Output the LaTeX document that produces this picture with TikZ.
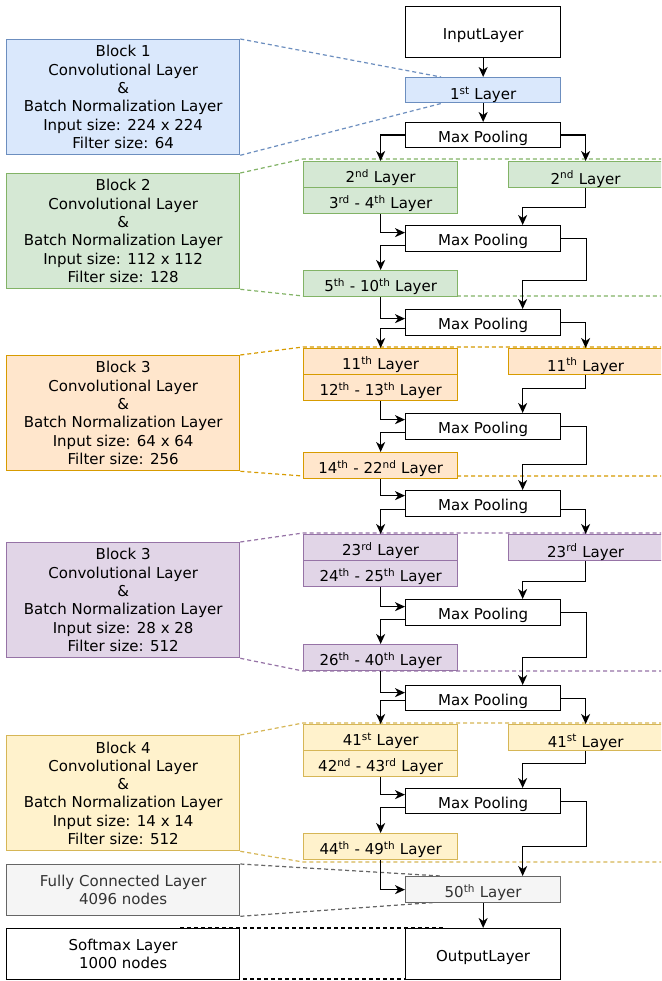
\documentclass[tikz,border=0pt]{standalone}
\usepackage{fontspec}
\setmainfont{DejaVu Sans}
\usetikzlibrary{arrows.meta}
\definecolor{bluef}{HTML}{DAE8FC}\definecolor{blues}{HTML}{6C8EBF}
\definecolor{greenf}{HTML}{D5E8D4}\definecolor{greens}{HTML}{82B366}
\definecolor{orangef}{HTML}{FFE6CC}\definecolor{oranges}{HTML}{D79B00}
\definecolor{purplef}{HTML}{E1D5E7}\definecolor{purples}{HTML}{9673A6}
\definecolor{yellowf}{HTML}{FFF2CC}\definecolor{yellows}{HTML}{D6B656}
\definecolor{grayf}{HTML}{F5F5F5}\definecolor{grays}{HTML}{666666}
\definecolor{grayt}{HTML}{333333}
\begin{document}
\begin{tikzpicture}[x=1pt,y=-1pt,
  font=\fontsize{15pt}{18.3pt}\selectfont,
  box/.style={draw, line width=1.3pt, inner sep=0pt, anchor=north west, align=center, text=black},
  lay/.style={box, minimum width=154pt, minimum height=26pt, text height=15.5pt, text depth=0pt},
  rlay/.style={lay, text height=19pt},
  mpool/.style={box, fill=white, minimum width=155pt, minimum height=26pt, text height=14.4pt, text depth=0pt},
  endbox/.style={box, fill=white, minimum width=155pt, minimum height=51pt, text height=15.2pt, text depth=0pt},
  blk/.style={box, minimum width=233pt, minimum height=115pt},
  smallblk/.style={box, minimum width=233pt, minimum height=51pt},
  arr/.style={line width=1.3pt, -{Stealth[length=10pt,width=9pt,inset=3pt]}},
  dsh/.style={line width=1.2pt, dash pattern=on 4pt off 3pt},
  cblue/.style={fill=bluef, draw=blues},
  cgreen/.style={fill=greenf, draw=greens},
  corange/.style={fill=orangef, draw=oranges},
  cpurple/.style={fill=purplef, draw=purples},
  cyellow/.style={fill=yellowf, draw=yellows},
  cgray/.style={fill=grayf, draw=grays, text=grayt},
]
\clip (0,0) rectangle (661,981);
\fill[white] (0,0) rectangle (661,981);

% ---------- side blocks ----------
\node[blk, cblue] (b1) at (6,39) {Block 1\\Convolutional Layer\\\&\\Batch Normalization Layer\\Input size: 224 x 224\\Filter size: 64};
\node[blk, cgreen] (b2) at (6,173) {Block 2\\Convolutional Layer\\\&\\Batch Normalization Layer\\Input size: 112 x 112\\Filter size: 128};
\node[blk, corange] (b3) at (6,355) {Block 3\\Convolutional Layer\\\&\\Batch Normalization Layer\\Input size: 64 x 64\\Filter size: 256};
\node[blk, cpurple] (b3p) at (6,542) {Block 3\\Convolutional Layer\\\&\\Batch Normalization Layer\\Input size: 28 x 28\\Filter size: 512};
\node[blk, cyellow] (b4) at (6,735) {Block 4\\Convolutional Layer\\\&\\Batch Normalization Layer\\Input size: 14 x 14\\Filter size: 512};
\node[smallblk, cgray] (fc) at (6,864) {Fully Connected Layer\\4096 nodes};

% ---------- dashed guide lines ----------
\coordinate (d1a) at (441,77);   \coordinate (d1b) at (443,103);
\coordinate (g1) at (303,159);   \coordinate (g2) at (661,159);
\coordinate (g3) at (303,296);   \coordinate (g4) at (661,296);
\coordinate (o1) at (303,347);   \coordinate (o2) at (661,347);
\coordinate (o3) at (303,476);   \coordinate (o4) at (661,476);
\coordinate (p1) at (303,533);   \coordinate (p2) at (661,533);
\coordinate (p3) at (303,671);   \coordinate (p4) at (661,671);
\coordinate (y1) at (303,723);   \coordinate (y2) at (661,723);
\coordinate (y3) at (303,862);   \coordinate (y4) at (661,862);
\coordinate (f1) at (441,876);   \coordinate (f2) at (441,902);
\coordinate (s1) at (180,928);   \coordinate (s2) at (443,928);
\coordinate (s3) at (180,979);   \coordinate (s4) at (443,979);

\draw[dsh, blues] (b1.north east) -- (d1a);
\draw[dsh, blues] (b1.south east) -- (d1b);
\draw[dsh, greens] (b2.north east) -- (g1) -- (g2);
\draw[dsh, greens] (b2.south east) -- (g3) -- (g4);
\draw[dsh, oranges] (b3.north east) -- (o1) -- (o2);
\draw[dsh, oranges] (b3.south east) -- (o3) -- (o4);
\draw[dsh, purples] (b3p.north east) -- (p1) -- (p2);
\draw[dsh, purples] (b3p.south east) -- (p3) -- (p4);
\draw[dsh, yellows] (b4.north east) -- (y1) -- (y2);
\draw[dsh, yellows] (b4.south east) -- (y3) -- (y4);
\draw[dsh, grays] (fc.north east) -- (f1);
\draw[dsh, grays] (fc.south east) -- (f2);
\draw[dsh, black] (s1) -- (s2);
\draw[dsh, black] (s3) -- (s4);

\node[smallblk, fill=white] (sm) at (6,928) {Softmax Layer\\1000 nodes};

% ---------- main column ----------
\node[endbox] (in) at (405,6) {InputLayer};
\node[rlay, cblue, minimum width=155pt, minimum height=25pt] (l1) at (405,77) {1\textsuperscript{st} Layer};
\node[mpool, minimum height=25pt] (mp1) at (405,122) {Max Pooling};

\node[lay, cgreen] (l2a) at (303,161) {2\textsuperscript{nd} Layer};
\node[lay, cgreen] (l34) at (303,187) {3\textsuperscript{rd} - 4\textsuperscript{th} Layer};
\node[rlay, cgreen] (l2b) at (508,161) {2\textsuperscript{nd} Layer};
\node[mpool] (mp2) at (405,225) {Max Pooling};
\node[lay, cgreen] (l510) at (303,270) {5\textsuperscript{th} - 10\textsuperscript{th} Layer};
\node[mpool] (mp3) at (405,309) {Max Pooling};

\node[lay, corange] (l11a) at (303,348) {11\textsuperscript{th} Layer};
\node[lay, corange] (l1213) at (303,374) {12\textsuperscript{th} - 13\textsuperscript{th} Layer};
\node[rlay, corange] (l11b) at (508,348) {11\textsuperscript{th} Layer};
\node[mpool] (mp4) at (405,413) {Max Pooling};
\node[lay, corange] (l1422) at (303,452) {14\textsuperscript{th} - 22\textsuperscript{nd} Layer};
\node[mpool] (mp5) at (405,490) {Max Pooling};

\node[lay, cpurple] (l23a) at (303,534) {23\textsuperscript{rd} Layer};
\node[lay, cpurple] (l2425) at (303,560) {24\textsuperscript{th} - 25\textsuperscript{th} Layer};
\node[rlay, cpurple] (l23b) at (508,534) {23\textsuperscript{rd} Layer};
\node[mpool] (mp6) at (405,599) {Max Pooling};
\node[lay, cpurple] (l2640) at (303,644) {26\textsuperscript{th} - 40\textsuperscript{th} Layer};
\node[mpool, minimum height=25pt] (mp7) at (405,685) {Max Pooling};

\node[lay, cyellow] (l41a) at (303,724) {41\textsuperscript{st} Layer};
\node[lay, cyellow] (l4243) at (303,750) {42\textsuperscript{nd} - 43\textsuperscript{rd} Layer};
\node[rlay, cyellow] (l41b) at (508,724) {41\textsuperscript{st} Layer};
\node[mpool, minimum height=25pt] (mp8) at (405,788) {Max Pooling};
\node[lay, cyellow] (l4449) at (303,833) {44\textsuperscript{th} - 49\textsuperscript{th} Layer};

\node[lay, cgray, minimum width=155pt] (l50) at (405,876) {50\textsuperscript{th} Layer};
\node[endbox] (out) at (405,928) {OutputLayer};

% ---------- arrows ----------
\draw[arr] (in.south) -- (l1.north);
\draw[arr] (l1.south) -- (mp1.north);
\draw[arr] (mp1.west) -| (l2a.north);
\draw[arr] (mp1.east) -| (l2b.north);

\draw[arr] (l34.south) |- ([yshift=6pt]mp2.west);
\draw[arr] (l2b.south) -- ++(0,19) -| ([xshift=39.5pt]mp2.north);
\draw[arr] ([yshift=-7pt]mp2.west) -| (l510.north);
\draw[arr] (mp2.east) -| ++(25,42) -| ([xshift=39.5pt]mp3.north);
\draw[arr] (l510.south) |- ([yshift=4pt]mp3.west);
\draw[arr] ([yshift=-6pt]mp3.west) -| (l11a.north);
\draw[arr] (mp3.east) -| (l11b.north);

\draw[arr] (l1213.south) |- ([yshift=7pt]mp4.west);
\draw[arr] (l11b.south) -- ++(0,13) -| ([xshift=39.5pt]mp4.north);
\draw[arr] ([yshift=-6pt]mp4.west) -| (l1422.north);
\draw[arr] (mp4.east) -| ++(25,38) -| ([xshift=39.5pt]mp5.north);
\draw[arr] (l1422.south) |- ([yshift=8pt]mp5.west);
\draw[arr] ([yshift=-6pt]mp5.west) -| (l23a.north);
\draw[arr] ([yshift=-6pt]mp5.east) -| (l23b.north);

\draw[arr] (l2425.south) |- ([yshift=6pt]mp6.west);
\draw[arr] (l23b.south) -- ++(0,20) -| ([xshift=39.5pt]mp6.north);
\draw[arr] ([yshift=-7pt]mp6.west) -| (l2640.north);
\draw[arr] (mp6.east) -| ++(25,45) -| ([xshift=39.5pt]mp7.north);
\draw[arr] (l2640.south) |- ([yshift=5.5pt]mp7.west);
\draw[arr] ([yshift=-2pt]mp7.west) -| (l41a.north);
\draw[arr] (mp7.east) -| (l41b.north);

\draw[arr] (l4243.south) |- ([yshift=6.5pt]mp8.west);
\draw[arr] (l41b.south) -- ++(0,12) -| ([xshift=39.5pt]mp8.north);
\draw[arr] ([yshift=-6.5pt]mp8.west) -| (l4449.north);
\draw[arr] (mp8.east) -| ++(25,45) -| ([xshift=39.5pt]l50.north);
\draw[arr] (l4449.south) |- (l50.west);
\draw[arr] (l50.south) -- (out.north);
\end{tikzpicture}
\end{document}
